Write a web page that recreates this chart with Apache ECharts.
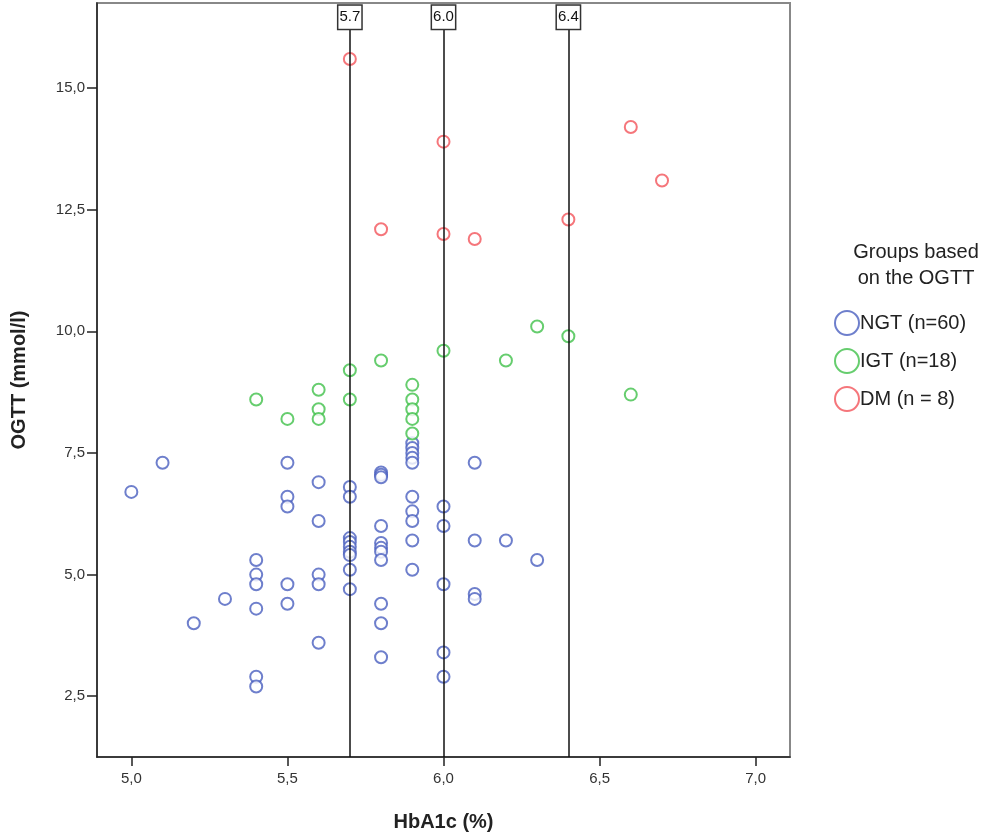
<!DOCTYPE html>
<html>
<head>
<meta charset="utf-8">
<script src="https://cdn.jsdelivr.net/npm/echarts@6/dist/echarts.min.js"></script>
<style>
  html, body { margin: 0; padding: 0; background: #fff; }
  #chart { width: 1004px; height: 837px; }
</style>
</head>
<body>
<div id="chart"></div>
<script>
// HbA1c (%) / OGTT (mmol/l) pairs
var ngtData = [
  [5.0, 6.7], [5.1, 7.3], [5.2, 4.0], [5.3, 4.5],
  [5.4, 5.3], [5.4, 5.0], [5.4, 4.8], [5.4, 4.3], [5.4, 2.9], [5.4, 2.7],
  [5.5, 7.3], [5.5, 6.6], [5.5, 6.4], [5.5, 4.8], [5.5, 4.4],
  [5.6, 6.9], [5.6, 6.1], [5.6, 5.0], [5.6, 4.8], [5.6, 3.6],
  [5.7, 6.8], [5.7, 6.6], [5.7, 5.75], [5.7, 5.67], [5.7, 5.57], [5.7, 5.47], [5.7, 5.4], [5.7, 5.1], [5.7, 4.7],
  [5.8, 7.1], [5.8, 7.05], [5.8, 7.0], [5.8, 6.0], [5.8, 5.65], [5.8, 5.55], [5.8, 5.47], [5.8, 5.3], [5.8, 4.4], [5.8, 4.0], [5.8, 3.3],
  [5.9, 7.7], [5.9, 7.6], [5.9, 7.5], [5.9, 7.4], [5.9, 7.3], [5.9, 6.6], [5.9, 6.3], [5.9, 6.1], [5.9, 5.7], [5.9, 5.1],
  [6.0, 6.4], [6.0, 6.0], [6.0, 4.8], [6.0, 3.4], [6.0, 2.9],
  [6.1, 7.3], [6.1, 5.7], [6.1, 4.6], [6.1, 4.5],
  [6.2, 5.7], [6.3, 5.3]
]
var igtData = [
  [5.4, 8.6], [5.5, 8.2],
  [5.6, 8.8], [5.6, 8.4], [5.6, 8.2],
  [5.7, 9.2], [5.7, 8.6], [5.8, 9.4],
  [5.9, 8.9], [5.9, 8.6], [5.9, 8.4], [5.9, 8.2], [5.9, 7.9],
  [6.0, 9.6], [6.2, 9.4], [6.3, 10.1], [6.4, 9.9], [6.6, 8.7]
]
var dmData = [
  [5.7, 15.6], [5.8, 12.1], [6.0, 13.9], [6.0, 12.0],
  [6.1, 11.9], [6.4, 12.3], [6.6, 14.2], [6.7, 13.1]
]
var groupNames = ['NGT (n=60)', 'IGT (n=18)', 'DM (n = 8)']
var groupColors = ['#4a5fbf', '#40c04a', '#f2545a']
var cutoffs = [5.7, 6.0, 6.4]
var xTicks = [5.0, 5.5, 6.0, 6.5, 7.0]
var yTicks = [2.5, 5.0, 7.5, 10.0, 12.5, 15.0]
var xRange = [4.89, 7.11]
var yRange = [1.25, 16.75]

var font = "'Liberation Sans', Arial, sans-serif"
var comma = function (v) { return Number(v).toFixed(1).replace('.', ',') }

var chart = echarts.init(document.getElementById('chart'))

function scatter(name, data, color, withLines) {
  var s = {
    name: name,
    type: 'scatter',
    data: data,
    symbol: 'emptyCircle',
    symbolSize: 12,
    itemStyle: { color: color, borderWidth: 1.5 },
    emphasis: { disabled: true }
  }
  if (withLines) {
    s.markLine = {
      silent: true,
      symbol: 'none',
      animation: false,
      lineStyle: { color: '#111', width: 1.5, type: 'solid' },
      label: {
        show: true,
        position: 'end',
        distance: 0,
        formatter: function (p) { return cutoffs[p.dataIndex].toFixed(1) },
        fontFamily: font,
        fontSize: 15,
        color: '#111',
        backgroundColor: '#fff',
        borderColor: '#333',
        borderWidth: 1.5,
        padding: [4, 1, 4, 1]
      },
      data: cutoffs.map(function (c) {
        return [{ coord: [c, yRange[0]] }, { coord: [c, 16.22] }]
      })
    }
  }
  return s
}

var option = {
  animation: false,
  backgroundColor: '#fff',
  textStyle: { fontFamily: font },
  title: {
    text: 'Groups based\non the OGTT',
    left: 911,
    top: 234,
    textAlign: 'center',
    textStyle: { fontFamily: font, fontSize: 20, fontWeight: 'normal', color: '#222', lineHeight: 26 }
  },
  legend: {
    orient: 'vertical',
    left: 829,
    top: 305,
    itemWidth: 26,
    itemHeight: 24,
    itemGap: 12,
    icon: 'emptyCircle',
    selectedMode: false,
    itemStyle: { borderWidth: 1.5 },
    textStyle: { fontFamily: font, fontSize: 20, color: '#222', padding: [0, 0, 0, -5] },
    data: groupNames
  },
  grid: {
    left: 97, right: 214, top: 3, bottom: 80,
    show: true, borderColor: '#888', borderWidth: 2, backgroundColor: '#fff'
  },
  xAxis: {
    type: 'value',
    min: xRange[0], max: xRange[1],
    name: 'HbA1c (%)',
    nameLocation: 'middle',
    nameGap: 55,
    nameTextStyle: { fontFamily: font, fontSize: 20, fontWeight: 'bold', color: '#222' },
    axisLine: { show: true, onZero: false, lineStyle: { color: '#222', width: 1.5 } },
    axisTick: { show: true, length: 9, customValues: xTicks, lineStyle: { color: '#222', width: 1.5 } },
    axisLabel: { customValues: xTicks, formatter: comma, margin: 14, fontSize: 15, color: '#333', fontFamily: font },
    splitLine: { show: false }
  },
  yAxis: {
    type: 'value',
    min: yRange[0], max: yRange[1],
    name: 'OGTT (mmol/l)',
    nameLocation: 'middle',
    nameGap: 68,
    nameTextStyle: { fontFamily: font, fontSize: 20, fontWeight: 'bold', color: '#222' },
    axisLine: { show: true, onZero: false, lineStyle: { color: '#222', width: 1.5 } },
    axisTick: { show: true, length: 10, customValues: yTicks, lineStyle: { color: '#222', width: 1.5 } },
    axisLabel: { customValues: yTicks, formatter: comma, margin: 12, fontSize: 15, color: '#333', fontFamily: font },
    splitLine: { show: false }
  },
  series: [
    scatter(groupNames[0], ngtData, groupColors[0], true),
    scatter(groupNames[1], igtData, groupColors[1], false),
    scatter(groupNames[2], dmData, groupColors[2], false)
  ]
}

chart.setOption(option)
</script>
</body>
</html>
